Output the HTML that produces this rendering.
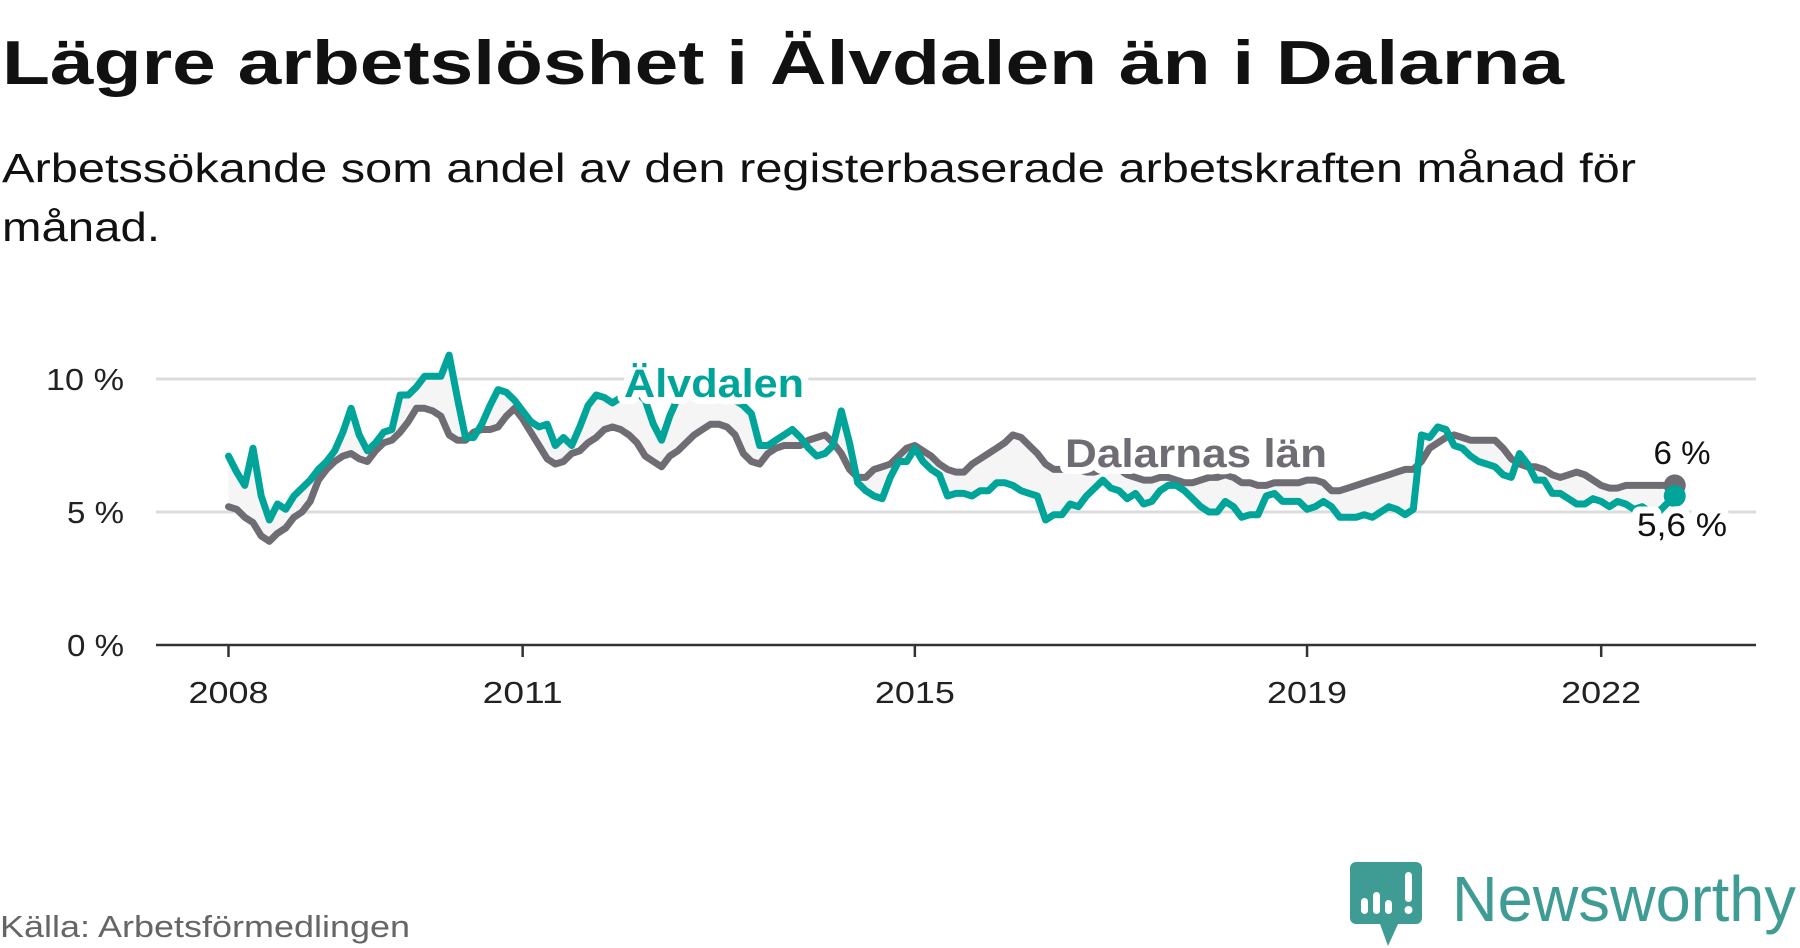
<!DOCTYPE html>
<html><head><meta charset="utf-8"><style>
html,body{margin:0;padding:0;background:#fff;width:1800px;height:948px;overflow:hidden}
svg{display:block;font-family:"Liberation Sans",sans-serif}
</style></head><body>
<svg id="chart" width="1800" height="948" viewBox="0 0 1800 948">
<text x="2" y="84" font-size="62" font-weight="bold" fill="#111" textLength="1562" lengthAdjust="spacingAndGlyphs">Lägre arbetslöshet i Älvdalen än i Dalarna</text>
<text x="2" y="182" font-size="41" fill="#111" textLength="1634" lengthAdjust="spacingAndGlyphs">Arbetssökande som andel av den registerbaserade arbetskraften månad för</text>
<text x="2" y="241" font-size="41" fill="#111" textLength="158" lengthAdjust="spacingAndGlyphs">månad.</text>
<g id="grid"></g>
<g id="area"></g>
<g id="lines"></g>
<g id="axes"></g>
<g id="labels"></g>
<text x="0" y="937" font-size="31" fill="#666" textLength="410" lengthAdjust="spacingAndGlyphs">Källa: Arbetsförmedlingen</text>
<g>
<path d="M1356 862 H1416 a6 6 0 0 1 6 6 V918 a6 6 0 0 1 -6 6 H1398 L1388 946 L1380 924 H1356 a6 6 0 0 1 -6 -6 V868 a6 6 0 0 1 6 -6Z" fill="#3f9c94"/>
<rect x="1361" y="898" width="7" height="16" rx="3.5" fill="#fff"/>
<rect x="1373" y="892" width="7" height="22" rx="3.5" fill="#fff"/>
<rect x="1385" y="900" width="7" height="14" rx="3.5" fill="#fff"/>
<rect x="1405" y="872" width="7" height="30" rx="3.5" fill="#fff"/>
<circle cx="1408.5" cy="910" r="4" fill="#fff"/>
<text x="1452" y="921" font-size="64" fill="#3f9c94" textLength="344" lengthAdjust="spacingAndGlyphs">Newsworthy</text>
</g>
</svg>
<script>
const startYear = 2008;
const yTicks = [0, 5, 10];
const xTickYears = [2008, 2011, 2015, 2019, 2022];
const alvdalen = [
7.1,6.5,6.0,7.4,5.6,4.7,5.3,5.1,5.6,5.9,6.2,6.6,
6.9,7.3,8.0,8.9,7.9,7.3,7.6,8.0,8.1,9.4,9.4,9.7,
10.1,10.1,10.1,10.9,9.3,7.8,7.8,8.3,9.0,9.6,9.5,9.2,
8.8,8.4,8.2,8.3,7.5,7.8,7.5,8.2,9.0,9.4,9.3,9.1,
9.3,9.4,9.5,9.2,8.3,7.7,8.6,9.3,9.8,9.8,9.6,9.5,
9.6,9.5,9.2,9.0,8.7,7.5,7.5,7.7,7.9,8.1,7.8,7.4,
7.1,7.2,7.5,8.8,7.6,6.1,5.8,5.6,5.5,6.3,6.9,6.9,
7.4,6.9,6.6,6.4,5.6,5.7,5.7,5.6,5.8,5.8,6.1,6.1,
6.0,5.8,5.7,5.6,4.7,4.9,4.9,5.3,5.2,5.6,5.9,6.2,
5.9,5.8,5.5,5.7,5.3,5.4,5.8,6.0,6.0,5.8,5.5,5.2,
5.0,5.0,5.4,5.2,4.8,4.9,4.9,5.6,5.7,5.4,5.4,5.4,
5.1,5.2,5.4,5.2,4.8,4.8,4.8,4.9,4.8,5.0,5.2,5.1,
4.9,5.1,7.9,7.8,8.2,8.1,7.5,7.4,7.1,6.9,6.8,6.7,
6.4,6.3,7.2,6.8,6.2,6.2,5.7,5.7,5.5,5.3,5.3,5.5,
5.4,5.2,5.4,5.3,5.1,5.2,5.0,5.0,5.3,5.6];
const dalarna = [
5.2,5.1,4.8,4.6,4.1,3.9,4.2,4.4,4.8,5.0,5.4,6.2,
6.6,6.9,7.1,7.2,7.0,6.9,7.3,7.6,7.7,8.0,8.4,8.9,
8.9,8.8,8.6,7.9,7.7,7.7,8.0,8.1,8.1,8.2,8.6,8.9,
8.5,8.0,7.5,7.0,6.8,6.9,7.2,7.3,7.6,7.8,8.1,8.2,
8.1,7.9,7.6,7.1,6.9,6.7,7.1,7.3,7.6,7.9,8.1,8.3,
8.3,8.2,7.9,7.2,6.9,6.8,7.2,7.4,7.5,7.5,7.5,7.7,
7.8,7.9,7.6,7.2,6.6,6.3,6.3,6.6,6.7,6.8,7.1,7.4,
7.5,7.3,7.1,6.8,6.6,6.5,6.5,6.8,7.0,7.2,7.4,7.6,
7.9,7.8,7.5,7.2,6.8,6.6,6.6,6.7,6.6,6.5,6.5,6.6,
6.7,6.6,6.4,6.3,6.2,6.2,6.3,6.3,6.2,6.1,6.1,6.2,
6.3,6.3,6.4,6.3,6.1,6.1,6.0,6.0,6.1,6.1,6.1,6.1,
6.2,6.2,6.1,5.8,5.8,5.9,6.0,6.1,6.2,6.3,6.4,6.5,
6.6,6.6,6.9,7.4,7.6,7.8,7.9,7.8,7.7,7.7,7.7,7.7,
7.4,7.0,6.8,6.7,6.7,6.6,6.4,6.3,6.4,6.5,6.4,6.2,
6.0,5.9,5.9,6.0,6.0,6.0,6.0,6.0,6.0,6.0];
const endLabels = ["6 %", "5,6 %"];

const NS = "http://www.w3.org/2000/svg";
const X0 = 228.5, PX_YEAR = 98.05, Y0 = 645, PX_PCT = 26.6, XL = 156, XR = 1756;
function xScale(i){ return X0 + (i/12) * PX_YEAR; }
function xYear(y){ return X0 + (y - startYear) * PX_YEAR; }
function yScale(v){ return Y0 - v * PX_PCT; }
function mk(tag, attrs, parent){ const e=document.createElementNS(NS,tag); for(const k in attrs) e.setAttribute(k,attrs[k]); parent.appendChild(e); return e; }

const grid=document.getElementById('grid'), area=document.getElementById('area'),
 lines=document.getElementById('lines'), axes=document.getElementById('axes'), labels=document.getElementById('labels');

yTicks.forEach(t=>{
  if(t>0){
    const g=mk('line',{x1:XL,x2:XR,y1:yScale(t),y2:yScale(t),stroke:'#dcdcdc','stroke-width':3},grid);
    
    
  }
  const lbl=t+' %';
  const tx=mk('text',{x:124,y:yScale(t)+11,'font-size':31,fill:'#222','text-anchor':'end',textLength:(lbl.length===4?78:57),lengthAdjust:'spacingAndGlyphs'},axes);
  tx.textContent=lbl;
  
  
});
const ax=mk('line',{x1:XL,x2:XR,y1:Y0,y2:Y0,stroke:'#333','stroke-width':2.5},axes);


xTickYears.forEach(yr=>{
  const x=xYear(yr);
  const tk=mk('line',{x1:x,x2:x,y1:Y0,y2:Y0+12,stroke:'#333','stroke-width':2.5},axes);
  
  
  const tl=mk('text',{x:x,y:703,'font-size':31,fill:'#222','text-anchor':'middle',textLength:80,lengthAdjust:'spacingAndGlyphs'},axes);
  tl.textContent=yr;
  
  
});

const n=Math.min(alvdalen.length,dalarna.length);
let d='';
for(let i=0;i<n;i++) d+=(i?'L':'M')+xScale(i).toFixed(1)+' '+yScale(alvdalen[i]).toFixed(1);
for(let i=n-1;i>=0;i--) d+='L'+xScale(i).toFixed(1)+' '+yScale(dalarna[i]).toFixed(1);
const ar=mk('path',{d:d+'Z',fill:'#f5f5f5'},area);



function line(arr,color,name){
  const p=arr.map((v,i)=>(i?'L':'M')+xScale(i).toFixed(1)+' '+yScale(v).toFixed(1)).join('');
  const el=mk('path',{d:p,fill:'none',stroke:color,'stroke-width':7,'stroke-linejoin':'round','stroke-linecap':'round'},lines);
  
  
  const c=mk('circle',{cx:xScale(arr.length-1),cy:yScale(arr[arr.length-1]),r:11,fill:color},lines);
  
  
}
line(dalarna,'#6f6d73','dalarna-line');
line(alvdalen,'#00a499','alvdalen-line');

function label(txt,x,y,size,color,bold,anchor,name,w){
  const a={x:x,y:y,'font-size':size,fill:color,'text-anchor':anchor,stroke:'#fff','stroke-width':14,'stroke-linejoin':'round','paint-order':'stroke'};
  if(bold) a['font-weight']='bold';
  if(w){a.textLength=w;a.lengthAdjust='spacingAndGlyphs';}
  const t=mk('text',a,labels);
  t.textContent=txt;
  
  
}
label('Älvdalen',714,397,40,'#00a499',true,'middle','alvdalen-label',180);
label('Dalarnas län',1065,467,40,'#6f6d73',true,'start','dalarna-label',262);
label(endLabels[0],1682,464,32,'#111',false,'middle','dalarna-end-value',57);
label(endLabels[1],1682,536,32,'#111',false,'middle','alvdalen-end-value',90);
</script>
</body></html>
